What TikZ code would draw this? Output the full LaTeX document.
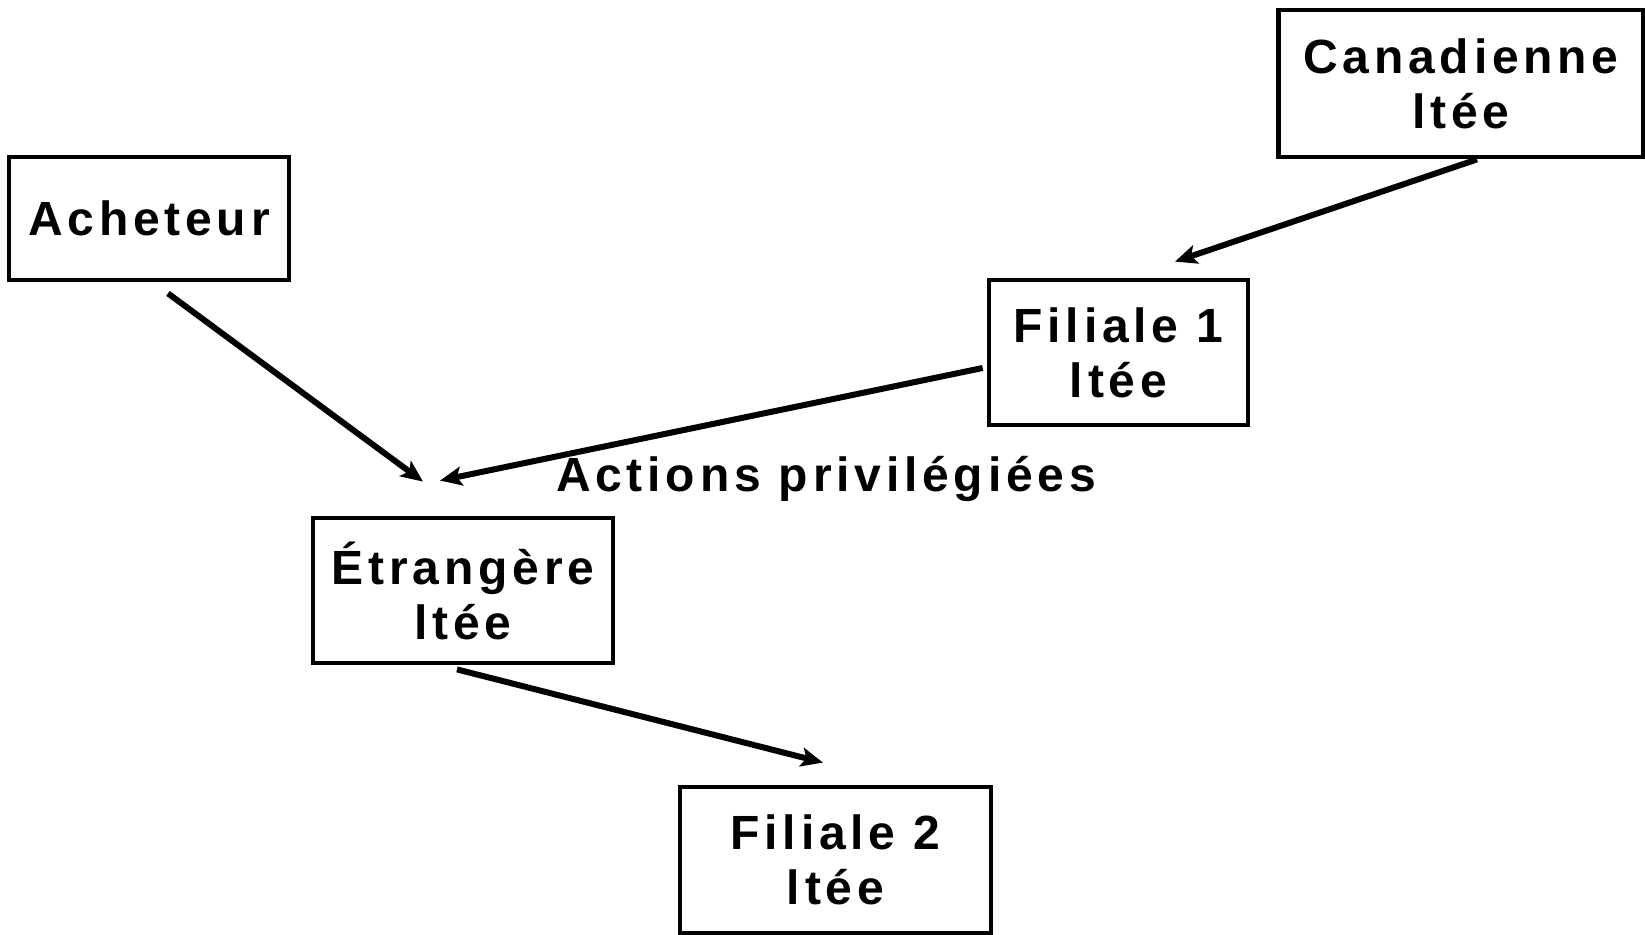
\documentclass[tikz,border=0pt]{standalone}
\usepackage{fontspec}
\newfontfamily\lblfont{Liberation Sans}[LetterSpace=10]
\usetikzlibrary{arrows.meta}
\begin{document}
\begin{tikzpicture}[x=0.5pt,y=-0.5pt,
  box/.style={draw=black,line width=2.4pt,fill=white,inner sep=0pt,align=center,
    font=\lblfont\bfseries\fontsize{24pt}{27.5pt}\selectfont},
  lbl/.style={inner sep=0pt,font=\lblfont\bfseries\fontsize{24pt}{27.5pt}\selectfont},
  arr/.style={draw=black,line width=3pt,-{Stealth[length=11pt,width=9.5pt,inset=2.5pt]}}]
\useasboundingbox (0,0) rectangle (1645,935);
\fill[white] (0,0) rectangle (1645,935);
\node[box,minimum width=182.5pt,minimum height=73.5pt] (can) at (1461,83.5) {Canadienne\\ltée};
\node[box,minimum width=140pt,minimum height=61.5pt] (ach) at (149,218.5) {Acheteur};
\node[box,minimum width=129.5pt,minimum height=72.5pt] (fil1) at (1118.5,352.5) {Filiale 1\\ltée};
\node[box,minimum width=150pt,minimum height=72.5pt] (etr) at (463,590.5) {Étrangère\\ltée};
\node[box,minimum width=155.5pt,minimum height=73pt] (fil2) at (835.5,860) {Filiale 2\\ltée};
\node[lbl,anchor=base] (act) at (826,492) {Actions privilégiées};
\draw[arr] ([xshift=8pt,yshift=0pt]can.south) -- ([xshift=28.25pt,yshift=8pt]fil1.north);
\draw[arr] ([xshift=9.5pt,yshift=-5.5pt]ach.south) -- ([xshift=-20pt,yshift=17pt]etr.north);
\draw[arr] ([xshift=-2pt,yshift=-7.75pt]fil1.west) -- ([xshift=-11.5pt,yshift=17.5pt]etr.north);
\draw[arr] ([xshift=-3pt,yshift=-2pt]etr.south) -- ([xshift=-6.25pt,yshift=11pt]fil2.north);
\end{tikzpicture}
\end{document}
